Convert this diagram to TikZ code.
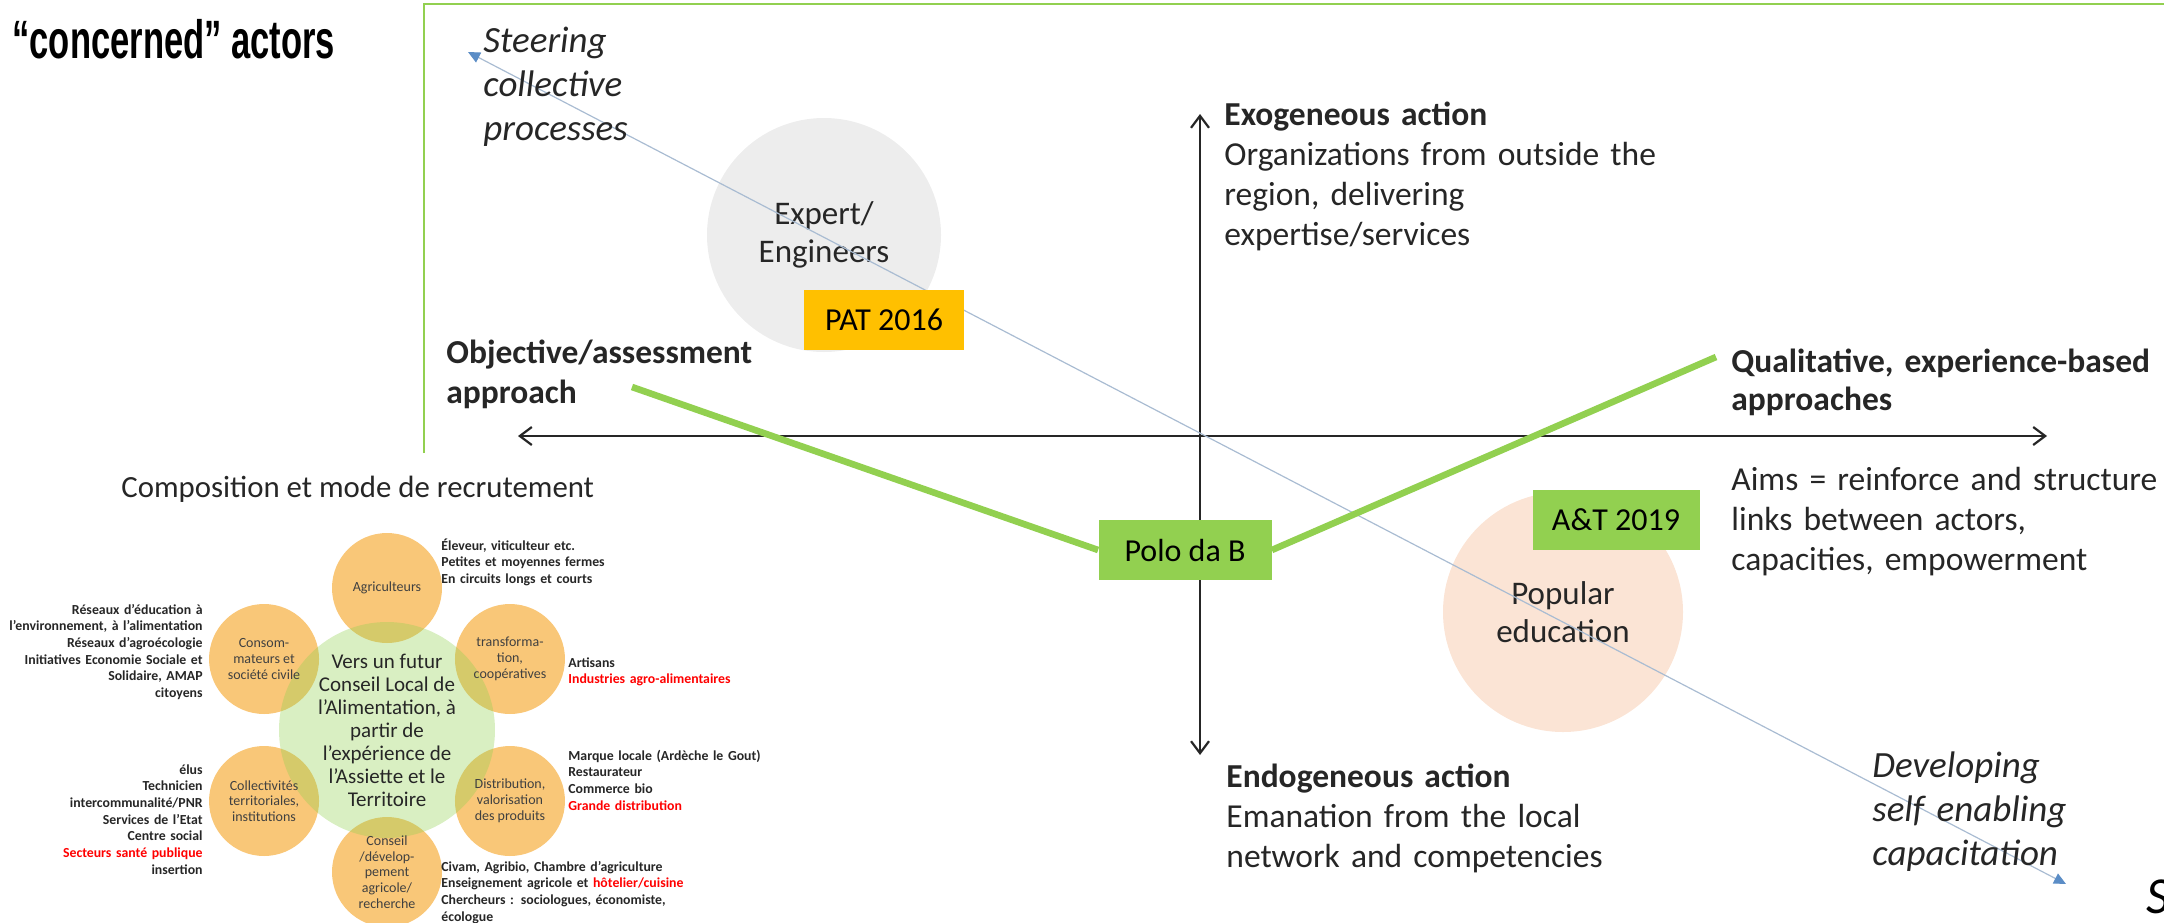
\documentclass[tikz,border=0pt]{standalone}
\usepackage{fontspec}
\setmainfont{Carlito}
\newfontfamily\headfont[FakeStretch=0.64]{Liberation Sans}
\usetikzlibrary{arrows.meta,positioning,calc}

\definecolor{framegreen}{HTML}{92D050}
\definecolor{patorange}{HTML}{FFC000}
\definecolor{diagline}{HTML}{A9BCD2}
\definecolor{diagtip}{HTML}{5B8DC6}
\definecolor{expertgray}{HTML}{EDEDED}
\definecolor{popularpeach}{HTML}{FBE4D5}
\definecolor{petalorange}{HTML}{F9C778}
\definecolor{inkgray}{HTML}{262626}
\definecolor{petalink}{HTML}{404040}
\definecolor{alertred}{HTML}{FF0000}

\begin{document}
\begin{tikzpicture}[
        x=0.5pt, y=-0.5pt,
        axis/.style={draw=black!85, line width=1.1pt, >={Straight Barb[length=6pt,width=9pt]}, <->},
        diag/.style={draw=diagline, line width=0.6pt, >={Triangle[length=6pt,width=5.5pt,color=diagtip]}, <->},
        link/.style={draw=framegreen, line width=3.3pt},
        tagbox/.style={inner sep=0pt, minimum height=30pt, font=\fontsize{16}{19}\selectfont},
        bubble/.style={circle, inner sep=0pt, align=center, text=inkgray, font=\fontsize{16.5}{19}\selectfont},
        body/.style={anchor=base west, inner sep=0pt, text width=260pt, align=left, text=inkgray, font=\fontsize{16.75}{20}\selectfont},
        slanted/.style={body, font=\fontsize{18.5}{22}\selectfont\itshape},
        petal/.style={circle, fill=petalorange, minimum size=55pt, inner sep=0pt},
        petallabel/.style={align=center, inner sep=0pt, text=petalink, font=\fontsize{7}{7.9}\selectfont},
        actorlist/.style={inner sep=0pt, text width=140pt, text=inkgray, font=\bfseries\fontsize{6.9}{8.35}\selectfont}
    ]
    \useasboundingbox (0,0) rectangle (2164,922);

    % slide title and frame
    \node[anchor=base west, inner sep=0pt, font=\headfont\bfseries\fontsize{27}{30}\selectfont] (title) at (12,58) {“concerned” actors};
    \draw[framegreen, line width=1pt] (424,453) -- (424,4) -- (2170,4);

    % typology bubbles
    \node[bubble, fill=expertgray, minimum size=117pt] (expert) at (824,235) {Expert/\\Engineers};
    \node[bubble, fill=popularpeach, minimum size=120pt] (popular) at (1563,612) {Popular\\education};

    % axes
    \coordinate (xleft) at (518,436);
    \coordinate (xright) at (2047,436);
    \coordinate (ytop) at (1200,114);
    \coordinate (ybottom) at (1200,755);
    \draw[axis] (xleft) -- (xright);
    \draw[axis] (ytop) -- (ybottom);
    \coordinate (steerend) at (468,52);
    \coordinate (capend) at (2066,884);
    \draw[diag] (steerend) -- (capend);

    % cases
    \node[tagbox, fill=patorange, minimum width=80pt] (pat) at (884,320) {PAT 2016};
    \node[tagbox, fill=framegreen, minimum width=86.5pt] (polo) at (1185,550) {Polo da B};
    \node[tagbox, fill=framegreen, minimum width=83.5pt] (aet) at (1616,520) {A\&T 2019};
    \coordinate (objend) at (632,387);
    \coordinate (qualend) at (1716,357);
    \draw[link] (objend) -- (polo.west);
    \draw[link] (polo.east) -- (qualend);

    % pole labels
    \node[slanted] (steer) at (483,52) {Steering\\collective\\processes};
    \node[slanted] (devel) at (1872,777) {Developing\\self enabling\\capacitation};
    \node[body, font=\bfseries\fontsize{16.75}{20}\selectfont] (objective) at (446,363) {Objective/assessment\\approach};
    \node[body, font=\bfseries\fontsize{16.75}{19}\selectfont] (qualit) at (1731,372) {Qualitative, experience-based\\approaches};
    \node[body] (aims) at (1731,490) {Aims = reinforce and structure\\links between actors,\\capacities, empowerment};
    \node[body] (exo) at (1224,125) {\textbf{Exogeneous action}\\Organizations from outside the\\region, delivering\\expertise/services};
    \node[body] (endo) at (1226,787) {\textbf{Endogeneous action}\\Emanation from the local\\network and competencies};
    \node[anchor=base west, inner sep=0pt, font=\fontsize{26}{30}\selectfont\itshape] (cutletter) at (2146,913) {S};

    % inset: conseil local de l'alimentation
    \node[anchor=base west, inner sep=0pt, text=inkgray, font=\fontsize{15.4}{18}\selectfont] (insettitle) at (121,497) {Composition et mode de recrutement};
    \coordinate (hubc) at (387,730);
    \foreach \ang/\nm in {-90/agri, -30/trans, 30/distr, 90/advice, 150/coll, 210/consom}
        \node[petal] (\nm) at ($(hubc)+(\ang:142)$) {};
    \node[circle, fill=framegreen, fill opacity=0.35, text opacity=1, minimum size=108pt, inner sep=0pt, align=center, text=inkgray, font=\fontsize{10.5}{11.5}\selectfont] (hub) at (hubc) {Vers un futur\\Conseil Local de\\l’Alimentation, à\\partir de\\l’expérience de\\l’Assiette et le\\Territoire};
    \node[petallabel] (agrilab) at (agri) {Agriculteurs};
    \node[petallabel] (translab) at (trans) {transforma-\\tion,\\coopératives};
    \node[petallabel] (distrlab) at (distr) {Distribution,\\valorisation\\des produits};
    \node[petallabel] (advicelab) at (advice) {Conseil\\/dévelop-\\pement\\agricole/\\recherche};
    \node[petallabel] (colllab) at (coll) {Collectivités\\territoriales,\\institutions};
    \node[petallabel] (consomlab) at (consom) {Consom-\\mateurs et\\société civile};

    \node[actorlist, anchor=base west, align=left] (farmlist) at (441,550) {Éleveur, viticulteur etc.\\Petites et moyennes fermes\\En circuits longs et courts};
    \node[actorlist, anchor=base west, align=left] (translist) at (568,667) {Artisans\\\textcolor{alertred}{Industries agro-alimentaires}};
    \node[actorlist, anchor=base west, align=left] (distrlist) at (568,760) {Marque locale (Ardèche le Gout)\\Restaurateur\\Commerce bio\\\textcolor{alertred}{Grande distribution}};
    \node[actorlist, anchor=base west, align=left] (advicelist) at (441,871) {Civam, Agribio, Chambre d’agriculture\\Enseignement agricole et \textcolor{alertred}{hôtelier/cuisine}\\Chercheurs : sociologues, économiste,\\écologue};
    \node[actorlist, anchor=base east, align=right] (consomlist) at (203,614) {Réseaux d’éducation à\\l’environnement, à l’alimentation\\Réseaux d’agroécologie\\Initiatives Economie Sociale et\\Solidaire, AMAP\\citoyens};
    \node[actorlist, anchor=base east, align=right] (colllist) at (203,774) {élus\\Technicien\\intercommunalité/PNR\\Services de l’Etat\\Centre social\\\textcolor{alertred}{Secteurs santé publique}\\insertion};
\end{tikzpicture}
\end{document}
